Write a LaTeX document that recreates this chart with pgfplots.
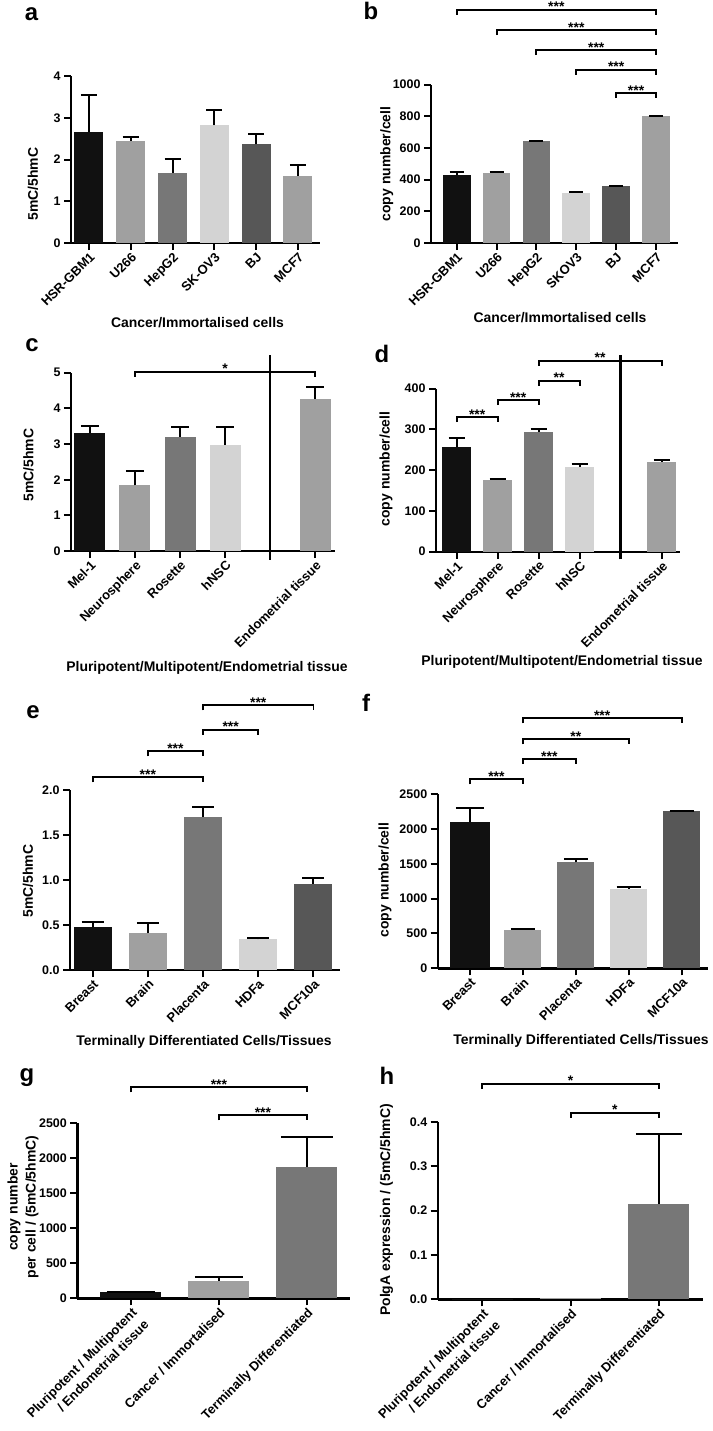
\documentclass[border=0pt]{standalone}
\usepackage{fontspec}
\setmainfont{Liberation Sans}
\usepackage{pgfplots}
\pgfplotsset{compat=1.18}

\definecolor{c0}{HTML}{111111}
\definecolor{c1}{HTML}{A0A0A0}
\definecolor{c2}{HTML}{777777}
\definecolor{c3}{HTML}{D3D3D3}
\definecolor{c4}{HTML}{575757}

\pgfplotsset{
  prism/.style={
    scale only axis, anchor=south west, clip=false,
    axis x line*=bottom, axis y line*=left,
    axis line style={line width=2.4bp, black},
    every tick/.style={line width=2bp, black},
    major tick length=7bp, tick align=outside,
    ymin=0, ybar,
    tick label style={font=\fontsize{12.5}{13}\selectfont\bfseries,
      /pgf/number format/assume math mode=true,
      /pgf/number format/1000 sep={}},
    xticklabel style={rotate=45, anchor=north east, inner sep=1bp,
      font=\fontsize{13}{17}\selectfont\bfseries},
  },
  bar/.style 2 args={fill=#1, draw=none, bar shift=0pt,
    error bars/y dir=plus, error bars/y explicit,
    error bars/error bar style={line width=2bp, black},
    error bars/error mark options={rotate=90, mark size=#2, line width=2bp, black}},
}
\tikzset{
  lab/.style={font=\fontsize{14}{18}\selectfont\bfseries, inner sep=0pt},
  letter/.style={font=\fontsize{24}{24}\selectfont\bfseries, inner sep=0pt},
}
% significance bracket: x1, x2, y, stars
\newcommand{\brk}[4]{%
  \draw[line width=1.9bp] ([yshift=-5bp]axis cs:#1,#3) -- (axis cs:#1,#3)
    -- (axis cs:#2,#3) -- ([yshift=-5bp]axis cs:#2,#3);
  \node[anchor=base, inner sep=0pt, font=\fontsize{14}{14}\selectfont\bfseries]
    at ([yshift=-2bp]axis cs:{(#1+#2)/2},#3) {#4};}

\begin{document}
\begin{tikzpicture}
\path[use as bounding box] (0,0) rectangle (713bp,-1431bp);

% ---- a ----
\begin{axis}[prism, at={(71bp,-243bp)}, width=249bp, height=167bp,
  xmin=-0.43, xmax=5.53, ymax=4, ytick={0,1,2,3,4},
  xtick={0,...,5}, xticklabels={HSR-GBM1,U266,HepG2,SK-OV3,BJ,MCF7}]
\addplot[bar width=29bp, bar={c0}{8bp}] coordinates {(0,2.65) +- (0,0.90)};
\addplot[bar width=29bp, bar={c1}{8bp}] coordinates {(1,2.45) +- (0,0.08)};
\addplot[bar width=29bp, bar={c2}{8bp}] coordinates {(2,1.68) +- (0,0.34)};
\addplot[bar width=29bp, bar={c3}{8bp}] coordinates {(3,2.82) +- (0,0.36)};
\addplot[bar width=29bp, bar={c4}{8bp}] coordinates {(4,2.36) +- (0,0.26)};
\addplot[bar width=29bp, bar={c1}{8bp}] coordinates {(5,1.61) +- (0,0.25)};
\end{axis}

% ---- b ----
\begin{axis}[prism, at={(431bp,-243bp)}, width=247bp, height=158.3bp,
  xmin=-0.644, xmax=5.55, ymax=1000, ytick={0,200,...,1000},
  xtick={0,...,5}, xticklabels={HSR-GBM1,U266,HepG2,SKOV3,BJ,MCF7}]
\addplot[bar width=27.7bp, bar={c0}{7bp}] coordinates {(0,432) +- (0,16)};
\addplot[bar width=27.7bp, bar={c1}{7bp}] coordinates {(1,443) +- (0,4)};
\addplot[bar width=27.7bp, bar={c2}{7bp}] coordinates {(2,643) +- (0,4)};
\addplot[bar width=27.7bp, bar={c3}{7bp}] coordinates {(3,319) +- (0,4)};
\addplot[bar width=27.7bp, bar={c4}{7bp}] coordinates {(4,357) +- (0,4)};
\addplot[bar width=27.7bp, bar={c1}{7bp}] coordinates {(5,801) +- (0,4)};
\brk{0}{5}{1472}{***}
\brk{1}{5}{1345}{***}
\brk{2}{5}{1219}{***}
\brk{3}{5}{1093}{***}
\brk{4}{5}{947}{***}
\end{axis}

% ---- c ----
\begin{axis}[prism, at={(71bp,-551bp)}, width=264bp, height=178.3bp,
  xmin=-0.42, xmax=5.44, ymax=5, ytick={0,1,2,3,4,5},
  xtick={0,1,2,3,5}, xticklabels={Mel-1,Neurosphere,Rosette,hNSC,Endometrial tissue}]
\addplot[bar width=31bp, bar={c0}{9bp}] coordinates {(0,3.30) +- (0,0.21)};
\addplot[bar width=31bp, bar={c1}{9bp}] coordinates {(1,1.84) +- (0,0.40)};
\addplot[bar width=31bp, bar={c2}{9bp}] coordinates {(2,3.21) +- (0,0.27)};
\addplot[bar width=31bp, bar={c3}{9bp}] coordinates {(3,2.97) +- (0,0.52)};
\addplot[bar width=31bp, bar={c1}{9bp}] coordinates {(5,4.26) +- (0,0.33)};
\draw[line width=2.4bp] (axis cs:4,-0.25) -- (axis cs:4,5.5);
\brk{1}{5}{5.03}{*}
\end{axis}

% ---- d ----
\begin{axis}[prism, at={(436bp,-551.7bp)}, width=244bp, height=163bp,
  xmin=-0.505, xmax=5.45, ymax=400, ytick={0,100,...,400},
  xtick={0,1,2,3,5}, xticklabels={Mel-1,Neurosphere,Rosette,hNSC,Endometrial tissue}]
\addplot[bar width=29.3bp, bar={c0}{8bp}] coordinates {(0,256) +- (0,24)};
\addplot[bar width=29.3bp, bar={c1}{8bp}] coordinates {(1,177) +- (0,2)};
\addplot[bar width=29.3bp, bar={c2}{8bp}] coordinates {(2,294) +- (0,6)};
\addplot[bar width=29.3bp, bar={c3}{8bp}] coordinates {(3,208) +- (0,7)};
\addplot[bar width=29.3bp, bar={c1}{8bp}] coordinates {(5,221) +- (0,3)};
\draw[line width=2.4bp] (axis cs:4,-18.6) -- (axis cs:4,483);
\brk{0}{1}{330}{***}
\brk{1}{2}{372}{***}
\brk{2}{3}{419}{**}
\brk{2}{5}{468}{**}
\end{axis}

% ---- e ----
\begin{axis}[prism, at={(70bp,-970bp)}, width=270bp, height=180bp,
  xmin=-0.41, xmax=4.48, ymax=2, ytick={0,0.5,1,1.5,2},
  yticklabel style={/pgf/number format/fixed, /pgf/number format/fixed zerofill,
    /pgf/number format/precision=1},
  xtick={0,...,4}, xticklabels={Breast,Brain,Placenta,HDFa,MCF10a}]
\addplot[bar width=38bp, bar={c0}{11bp}] coordinates {(0,0.475) +- (0,0.055)};
\addplot[bar width=38bp, bar={c1}{11bp}] coordinates {(1,0.41) +- (0,0.11)};
\addplot[bar width=38bp, bar={c2}{11bp}] coordinates {(2,1.70) +- (0,0.11)};
\addplot[bar width=38bp, bar={c3}{11bp}] coordinates {(3,0.34) +- (0,0.02)};
\addplot[bar width=38bp, bar={c4}{11bp}] coordinates {(4,0.96) +- (0,0.06)};
\brk{0}{2}{2.14}{***}
\brk{1}{2}{2.43}{***}
\brk{2}{3}{2.67}{***}
\brk{2}{4}{2.94}{***}
\end{axis}

% ---- f ----
\begin{axis}[prism, at={(437.7bp,-968.3bp)}, width=270.3bp, height=174.3bp,
  xmin=-0.61, xmax=4.5, ymax=2500, ytick={0,500,...,2500},
  xtick={0,...,4}, xticklabels={Breast,Brain,Placenta,HDFa,MCF10a}]
\addplot[bar width=40bp, bar={c0}{14bp}] coordinates {(0,2100) +- (0,195)};
\addplot[bar width=37bp, bar={c1}{12bp}] coordinates {(1,550) +- (0,12)};
\addplot[bar width=37bp, bar={c2}{12bp}] coordinates {(2,1520) +- (0,47)};
\addplot[bar width=37bp, bar={c3}{12bp}] coordinates {(3,1142) +- (0,24)};
\addplot[bar width=37bp, bar={c4}{12bp}] coordinates {(4,2250) +- (0,10)};
\brk{0}{1}{2710}{***}
\brk{1}{2}{3002}{***}
\brk{1}{3}{3284}{**}
\brk{1}{4}{3585}{***}
\end{axis}

% ---- g ----
\begin{axis}[prism, at={(77.3bp,-1298.3bp)}, width=272.7bp, height=175bp,
  xmin=-0.61, xmax=2.49, ymax=2500, ytick={0,500,...,2500},
  xtick={0,1,2},
  xticklabel style={align=right},
  xticklabels={{Pluripotent / Multipotent\\/ Endometrial tissue},{Cancer / Immortalised},{Terminally Differentiated}}]
\addplot[bar width=61bp, bar={c0}{24bp}] coordinates {(0,85) +- (0,8)};
\addplot[bar width=61bp, bar={c1}{24bp}] coordinates {(1,253) +- (0,55)};
\addplot[bar width=61bp, bar={c2}{26bp}] coordinates {(2,1880) +- (0,422)};
\brk{0}{2}{3014}{***}
\brk{1}{2}{2614}{***}
\end{axis}

% ---- h ----
\begin{axis}[prism, at={(437.7bp,-1299.3bp)}, width=265.3bp, height=177.3bp,
  xmin=-0.505, xmax=2.50, ymax=0.4, ytick={0,0.1,0.2,0.3,0.4},
  yticklabel style={/pgf/number format/fixed, /pgf/number format/fixed zerofill,
    /pgf/number format/precision=1},
  xtick={0,1,2},
  xticklabel style={align=right},
  xticklabels={{Pluripotent / Multipotent\\/ Endometrial tissue},{Cancer / Immortalised},{Terminally Differentiated}}]
\addplot[bar width=61bp, bar={c0}{22bp}] coordinates {(0,0.0005)};
\addplot[bar width=61bp, bar={c1}{22bp}] coordinates {(1,0.002)};
\addplot[bar width=61bp, bar={c2}{23bp}] coordinates {(2,0.216) +- (0,0.156)};
\brk{0}{2}{0.486}{*}
\brk{1}{2}{0.421}{*}
\end{axis}

% ---- axis titles and panel letters ----
\node[letter] at (31.5bp,-14bp) {a};
\node[letter] at (371bp,-11bp) {b};
\node[letter] at (32bp,-345bp) {c};
\node[letter] at (382bp,-354bp) {d};
\node[letter] at (33bp,-712bp) {e};
\node[letter] at (366bp,-703bp) {f};
\node[letter] at (27bp,-1078bp) {g};
\node[letter] at (387bp,-1076bp) {h};

\node[lab, rotate=90] at (33bp,-184bp) {5mC/5hmC};
\node[lab, rotate=90] at (386.7bp,-164bp) {copy number/cell};
\node[lab, rotate=90] at (28.5bp,-465bp) {5mC/5hmC};
\node[lab, rotate=90] at (386bp,-469bp) {copy number/cell};
\node[lab, rotate=90] at (28bp,-881bp) {5mC/5hmC};
\node[lab, rotate=90] at (385bp,-880bp) {copy number/cell};
\node[lab, rotate=90, align=center] at (23bp,-1207bp) {copy number\\per cell / (5mC/5hmC)};
\node[lab, rotate=90] at (386.6bp,-1210bp) {PolgA expression / (5mC/5hmC)};

\node[lab] at (197.5bp,-323bp) {Cancer/Immortalised cells};
\node[lab] at (560bp,-317.5bp) {Cancer/Immortalised cells};
\node[lab] at (207bp,-668bp) {Pluripotent/Multipotent/Endometrial tissue};
\node[lab] at (562bp,-662bp) {Pluripotent/Multipotent/Endometrial tissue};
\node[lab] at (204bp,-1042bp) {Terminally Differentiated Cells/Tissues};
\node[lab] at (581bp,-1041bp) {Terminally Differentiated Cells/Tissues};
\end{tikzpicture}
\end{document}
